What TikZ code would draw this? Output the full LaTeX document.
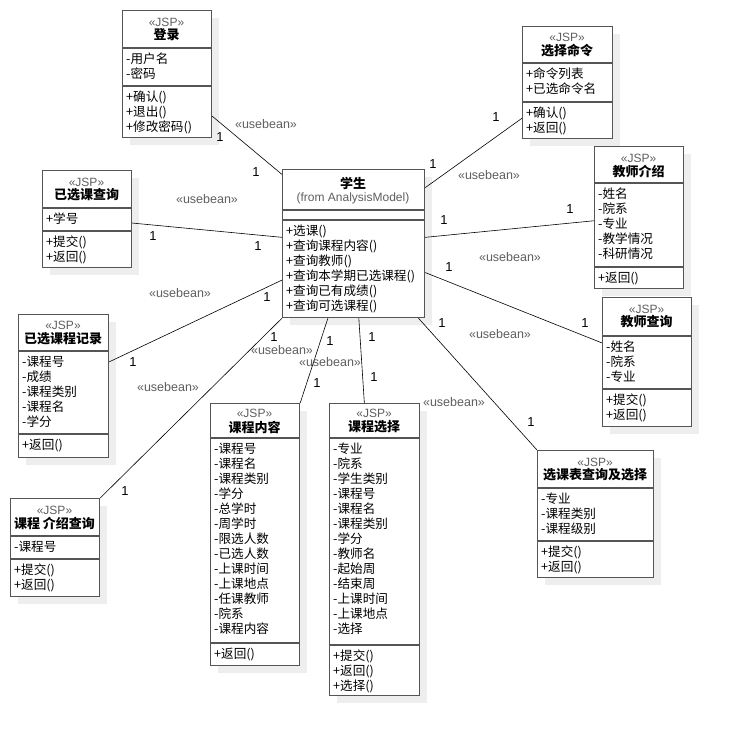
\documentclass[tikz,border=0pt]{standalone}
\usepackage{fontspec}
\setmainfont{Liberation Sans}
\newfontfamily\cjk{Noto Sans CJK SC}
\usepackage{xcolor}
\usepackage{tikz}
\usetikzlibrary{shadows}

\begin{document}
\begin{tikzpicture}[x=1pt,y=-1pt]
\definecolor{edge}{RGB}{85,85,85}
\definecolor{shade}{RGB}{238,238,238}
\definecolor{stgray}{RGB}{95,95,95}
\tikzset{
  jsp/.style={draw=edge,line width=1.2pt,fill=white,anchor=north west,inner sep=0pt,
    drop shadow={shadow xshift=7pt,shadow yshift=-7pt,fill=shade,opacity=1}},
  divider/.style={edge,line width=1.2pt},
  stereo/.style={font=\fontsize{12}{14}\selectfont,text=stgray,inner sep=0pt},
  cname/.style={font=\cjk\bfseries\fontsize{13}{15}\selectfont,inner sep=0pt},
  mem/.style={font=\cjk\fontsize{12.6}{15}\selectfont,anchor=north west,align=left,inner sep=0pt},
  bean/.style={font=\fontsize{12.5}{14}\selectfont,text=stgray,inner sep=0pt},
  mult/.style={font=\fontsize{13}{14}\selectfont,inner sep=0pt},
  assoc/.style={line width=0.6pt}
}
\fill[white] (0,0) rectangle (731,735);
\useasboundingbox (0,0) rectangle (731,735);
% login
\node[jsp,minimum width=89,minimum height=127] (login) at (122,10) {};
\draw[divider] (122,48) -- (211,48) (122,86) -- (211,86);
\node[stereo] (login-st) at (166.5,22) {«JSP»};
\node[cname] (login-name) at (166.5,35) {登录};
\node[mem] (login-attr) at (126,52.5) {-用户名\\-密码};
\node[mem] (login-ops) at (126,90.5) {+确认()\\+退出()\\+修改密码()};
% command
\node[jsp,minimum width=90,minimum height=112] (cmd) at (522,26) {};
\draw[divider] (522,63) -- (612,63) (522,102) -- (612,102);
\node[stereo] (cmd-st) at (567,37) {«JSP»};
\node[cname] (cmd-name) at (567,51) {选择命令};
\node[mem] (cmd-attr) at (526,67.5) {+命令列表\\+已选命令名};
\node[mem] (cmd-ops) at (526,106.5) {+确认()\\+返回()};
% selected query
\node[jsp,minimum width=89,minimum height=97] (selq) at (42,170) {};
\draw[divider] (42,208) -- (131,208) (42,231) -- (131,231);
\node[stereo] (selq-st) at (86.5,182) {«JSP»};
\node[cname] (selq-name) at (86.5,195) {已选课查询};
\node[mem] (selq-attr) at (46,212.5) {+学号};
\node[mem] (selq-ops) at (46,235.5) {+提交()\\+返回()};
% student
\node[jsp,minimum width=142,minimum height=148] (stu) at (282,169) {};
\draw[divider] (282,210) -- (424,210) (282,220) -- (424,220);
\node[cname] (stu-name) at (353,183) {学生};
\node[stereo] (stu-from) at (353,198) {(from AnalysisModel)};
\node[mem] (stu-ops) at (286,224.5) {+选课()\\+查询课程内容()\\+查询教师()\\+查询本学期已选课程()\\+查询已有成绩()\\+查询可选课程()};
% teacher intro
\node[jsp,minimum width=89,minimum height=142] (tintro) at (594,146) {};
\draw[divider] (594,183) -- (683,183) (594,267) -- (683,267);
\node[stereo] (tintro-st) at (638.5,158) {«JSP»};
\node[cname] (tintro-name) at (638.5,171) {教师介绍};
\node[mem] (tintro-attr) at (598,187.5) {-姓名\\-院系\\-专业\\-教学情况\\-科研情况};
\node[mem] (tintro-ops) at (598,271.5) {+返回()};
% teacher query
\node[jsp,minimum width=89,minimum height=129] (tquery) at (602,297) {};
\draw[divider] (602,336) -- (691,336) (602,389) -- (691,389);
\node[stereo] (tquery-st) at (646.5,309) {«JSP»};
\node[cname] (tquery-name) at (646.5,322) {教师查询};
\node[mem] (tquery-attr) at (606,340.5) {-姓名\\-院系\\-专业};
\node[mem] (tquery-ops) at (606,393.5) {+提交()\\+返回()};
% course record
\node[jsp,minimum width=90,minimum height=143] (record) at (18,314) {};
\draw[divider] (18,351) -- (108,351) (18,434) -- (108,434);
\node[stereo] (record-st) at (63,325) {«JSP»};
\node[cname] (record-name) at (63,339) {已选课程记录};
\node[mem] (record-attr) at (22,355.5) {-课程号\\-成绩\\-课程类别\\-课程名\\-学分};
\node[mem] (record-ops) at (22,438.5) {+返回()};
% course intro
\node[jsp,minimum width=89,minimum height=98] (cintro) at (10,498) {};
\draw[divider] (10,536) -- (99,536) (10,559) -- (99,559);
\node[stereo] (cintro-st) at (54.5,510) {«JSP»};
\node[cname] (cintro-name) at (54.5,523) {课程 介绍查询};
\node[mem] (cintro-attr) at (14,540.5) {-课程号};
\node[mem] (cintro-ops) at (14,563.5) {+提交()\\+返回()};
% course content
\node[jsp,minimum width=89,minimum height=262] (ccontent) at (210,403) {};
\draw[divider] (210,438) -- (299,438) (210,643) -- (299,643);
\node[stereo] (ccontent-st) at (254.5,413) {«JSP»};
\node[cname] (ccontent-name) at (254.5,427) {课程内容};
\node[mem] (ccontent-attr) at (214,442.5) {-课程号\\-课程名\\-课程类别\\-学分\\-总学时\\-周学时\\-限选人数\\-已选人数\\-上课时间\\-上课地点\\-任课教师\\-院系\\-课程内容};
\node[mem] (ccontent-ops) at (214,647.5) {+返回()};
% course selection
\node[jsp,minimum width=90,minimum height=292] (csel) at (329,403) {};
\draw[divider] (329,438) -- (419,438) (329,645) -- (419,645);
\node[stereo] (csel-st) at (374,413) {«JSP»};
\node[cname] (csel-name) at (374,427) {课程选择};
\node[mem] (csel-attr) at (333,442.5) {-专业\\-院系\\-学生类别\\-课程号\\-课程名\\-课程类别\\-学分\\-教师名\\-起始周\\-结束周\\-上课时间\\-上课地点\\-选择};
\node[mem] (csel-ops) at (333,649.5) {+提交()\\+返回()\\+选择()};
% table query and selection
\node[jsp,minimum width=116,minimum height=127] (tabsel) at (537,450) {};
\draw[divider] (537,488) -- (653,488) (537,541) -- (653,541);
\node[stereo] (tabsel-st) at (595,462) {«JSP»};
\node[cname] (tabsel-name) at (595,475) {选课表查询及选择};
\node[mem] (tabsel-attr) at (541,492.5) {-专业\\-课程类别\\-课程级别};
\node[mem] (tabsel-ops) at (541,545.5) {+提交()\\+返回()};
% associations
\draw[assoc] (login.-43.7) -- (stu.136.7);
\draw[assoc] (cmd.-142.1) -- (stu.38.8);
\draw[assoc] (selq.-5.8) -- (stu.175.2);
\draw[assoc] (tintro.-176.1) -- (stu.5.6);
\draw[assoc] (tquery.157.4) -- (stu.-22.9);
\draw[assoc] (record.28.6) -- (stu.-153.8);
\draw[assoc] (cintro.north east) -- (stu.south west);
\draw[assoc] (ccontent.north east) -- (stu.-109.4);
\draw[assoc] (csel.94.3) -- (stu.-86.1);
\draw[assoc] (tabsel.north west) -- (stu.-49.1);
% stereotypes on the associations
\node[bean] (bean-login) at (266,124) {«usebean»};
\node[bean] (bean-cmd) at (489,175) {«usebean»};
\node[bean] (bean-selq) at (207,199) {«usebean»};
\node[bean] (bean-tintro) at (510,257) {«usebean»};
\node[bean] (bean-tquery) at (500,334) {«usebean»};
\node[bean] (bean-record) at (180,293) {«usebean»};
\node[bean] (bean-cintro) at (168,387) {«usebean»};
\node[bean] (bean-ccontent) at (282,350) {«usebean»};
\node[bean] (bean-csel) at (330,362) {«usebean»};
\node[bean] (bean-tabsel) at (454,402) {«usebean»};
% multiplicities
\node[mult] (one-login-a) at (220,137) {1};
\node[mult] (one-login-b) at (256,172) {1};
\node[mult] (one-cmd-a) at (496,117) {1};
\node[mult] (one-cmd-b) at (433,164) {1};
\node[mult] (one-selq-a) at (153,236) {1};
\node[mult] (one-selq-b) at (258,246) {1};
\node[mult] (one-tintro-a) at (570,209) {1};
\node[mult] (one-tintro-b) at (444,220) {1};
\node[mult] (one-tquery-a) at (585,323) {1};
\node[mult] (one-tquery-b) at (449,267) {1};
\node[mult] (one-record-a) at (133,362) {1};
\node[mult] (one-record-b) at (267,297) {1};
\node[mult] (one-cintro-a) at (125,491) {1};
\node[mult] (one-cintro-b) at (274,337) {1};
\node[mult] (one-ccontent-a) at (317,383) {1};
\node[mult] (one-ccontent-b) at (330,341) {1};
\node[mult] (one-csel-a) at (374,377) {1};
\node[mult] (one-csel-b) at (372,337) {1};
\node[mult] (one-tabsel-a) at (531,422) {1};
\node[mult] (one-tabsel-b) at (442,323) {1};
\end{tikzpicture}
\end{document}
